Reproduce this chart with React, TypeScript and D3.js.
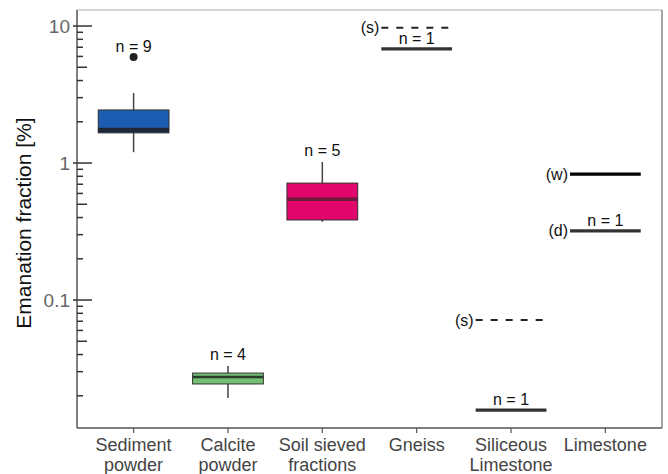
import React from "react";
import * as d3 from "d3";

const categories = ["Sediment powder", "Calcite powder", "Soil sieved fractions", "Gneiss", "Siliceous Limestone", "Limestone"];
const categoryLines = [["Sediment", "powder"], ["Calcite", "powder"], ["Soil sieved", "fractions"], ["Gneiss"], ["Siliceous", "Limestone"], ["Limestone"]];

// Box plots: category, whisker low, q1, median, q3, whisker high
const boxCategories = ["Sediment powder", "Calcite powder", "Soil sieved fractions"];
const boxWhiskerLow = [1.2, 0.0193, 0.372];
const boxQ1 = [1.66, 0.0244, 0.384];
const boxMedian = [1.74, 0.0274, 0.545];
const boxQ3 = [2.44, 0.0293, 0.714];
const boxWhiskerHigh = [3.24, 0.033, 1.017];
const boxN = [9, 4, 5];
const boxOutlier = [5.94, null, null];

// Single measurements
const singleCategories = ["Gneiss", "Gneiss", "Siliceous Limestone", "Siliceous Limestone", "Limestone", "Limestone"];
const singleValues = [9.7, 6.8, 0.0714, 0.0157, 0.83, 0.32];
const singleTags = ["(s)", "", "(s)", "", "(w)", "(d)"];
const singleDashed = [true, false, true, false, false, false];
const singleNLabel = [false, true, false, true, false, true];

const yTickLabels = ["10", "1", "0.1"];
const yTickValues = [10, 1, 0.1];

const W = 668, H = 474;
const L = 77, R = 662, T = 10, B = 428;

export default function App() {
  const x = d3.scalePoint<string>().domain(categories).range([L, R]).padding(0.6);
  const y = d3.scaleLog().domain([0.01164, 13.09]).range([B, T]);
  const step = x.step();
  const bw = step * 0.75;

  const fills = ["#1c5cb1", "#72bf74", "#e0066b"];
  const medColors = ["#1f2636", "#2b3b2c", "#6c1b3e"];
  const medWidths = [4.5, 2.5, 3.5];

  const minor: { v: number; kind: string }[] = [];
  for (const dec of [0.01, 0.1, 1, 10]) {
    for (let k = 1; k <= 9; k++) {
      const v = dec * k;
      if (v < 0.01164 || v > 13.09) continue;
      minor.push({ v, kind: k === 1 ? "major" : k === 5 ? "mid" : "minor" });
    }
  }

  const font = "Liberation Sans, Arial, sans-serif";

  return (
    <svg width={W} height={H} style={{ position: "absolute", left: 0, top: 0, background: "#fff" }} fontFamily={font}>
      {/* frame */}
      <line x1={L} x2={R} y1={T} y2={T} stroke="#b0b0b0" strokeWidth={1.2} />
      <line x1={R} x2={R} y1={T} y2={B} stroke="#888" strokeWidth={1.5} />
      <line x1={L} x2={L} y1={T} y2={B} stroke="#555" strokeWidth={1.5} />
      <line x1={L} x2={R} y1={B} y2={B} stroke="#555" strokeWidth={1.5} />

      {/* y ticks */}
      {minor.map((m, i) => (
        <line key={i} x1={m.kind === "major" ? L - 4 : L} x2={m.kind === "major" ? L + 15 : m.kind === "mid" ? L + 10 : L + 6}
          y1={y(m.v)} y2={y(m.v)} stroke="#333" strokeWidth={1.5} />
      ))}
      {yTickValues.map((v, i) => (
        <text key={i} x={L - 7} y={y(v)} dy="0.35em" textAnchor="end" fontSize={19} fill="#666">{yTickLabels[i]}</text>
      ))}
      <text transform={`translate(31,${(T + B) / 2 + 4}) rotate(-90)`} textAnchor="middle" fontSize={21} fill="#111">Emanation fraction [%]</text>

      {/* x ticks and labels */}
      {categories.map((c, i) => (
        <g key={c}>
          <line x1={x(c)} x2={x(c)} y1={B} y2={B + 5} stroke="#555" strokeWidth={1.2} />
          {categoryLines[i].map((ln, j) => (
            <text key={j} x={x(c)} y={451 + j * 20} textAnchor="middle" fontSize={18} fill="#444">{ln}</text>
          ))}
        </g>
      ))}

      {/* boxes */}
      {boxCategories.map((c, i) => {
        const cx = x(c)!;
        const out = boxOutlier[i];
        const topY = out != null ? y(out) - 5 : y(boxWhiskerHigh[i]) - 6;
        return (
          <g key={c}>
            <line x1={cx} x2={cx} y1={y(boxWhiskerHigh[i])} y2={y(boxQ3[i])} stroke="#444" strokeWidth={1.5} />
            <line x1={cx} x2={cx} y1={y(boxQ1[i])} y2={y(boxWhiskerLow[i])} stroke="#444" strokeWidth={1.5} />
            <rect x={cx - bw / 2} y={y(boxQ3[i])} width={bw} height={y(boxQ1[i]) - y(boxQ3[i])} fill={fills[i]} stroke="#333" strokeWidth={1} />
            <line x1={cx - bw / 2} x2={cx + bw / 2} y1={y(boxMedian[i])} y2={y(boxMedian[i])} stroke={medColors[i]} strokeWidth={medWidths[i]} />
            <text x={cx} y={topY} textAnchor="middle" fontSize={16} fill="#111">{`n = ${boxN[i]}`}</text>
            {out != null && <circle cx={cx} cy={y(out)} r={4} fill="#222" />}
          </g>
        );
      })}

      {/* singles */}
      {singleCategories.map((c, i) => {
        const cx = x(c)!;
        const yy = y(singleValues[i]);
        const half = bw / 2;
        return (
          <g key={i}>
            <line x1={cx - half} x2={cx + half} y1={yy} y2={yy}
              stroke={singleDashed[i] ? "#222" : singleTags[i] === "(w)" ? "#000" : "#333"}
              strokeWidth={singleDashed[i] ? 2 : 3.2}
              strokeDasharray={singleDashed[i] ? "7,8" : undefined} />
            {singleTags[i] && (
              <text x={cx - half - 2} y={yy} dy="0.35em" textAnchor="end" fontSize={16} fill="#111">{singleTags[i]}</text>
            )}
            {singleNLabel[i] && (
              <text x={cx} y={yy - 5} textAnchor="middle" fontSize={16} fill="#111">n = 1</text>
            )}
          </g>
        );
      })}
    </svg>
  );
}
